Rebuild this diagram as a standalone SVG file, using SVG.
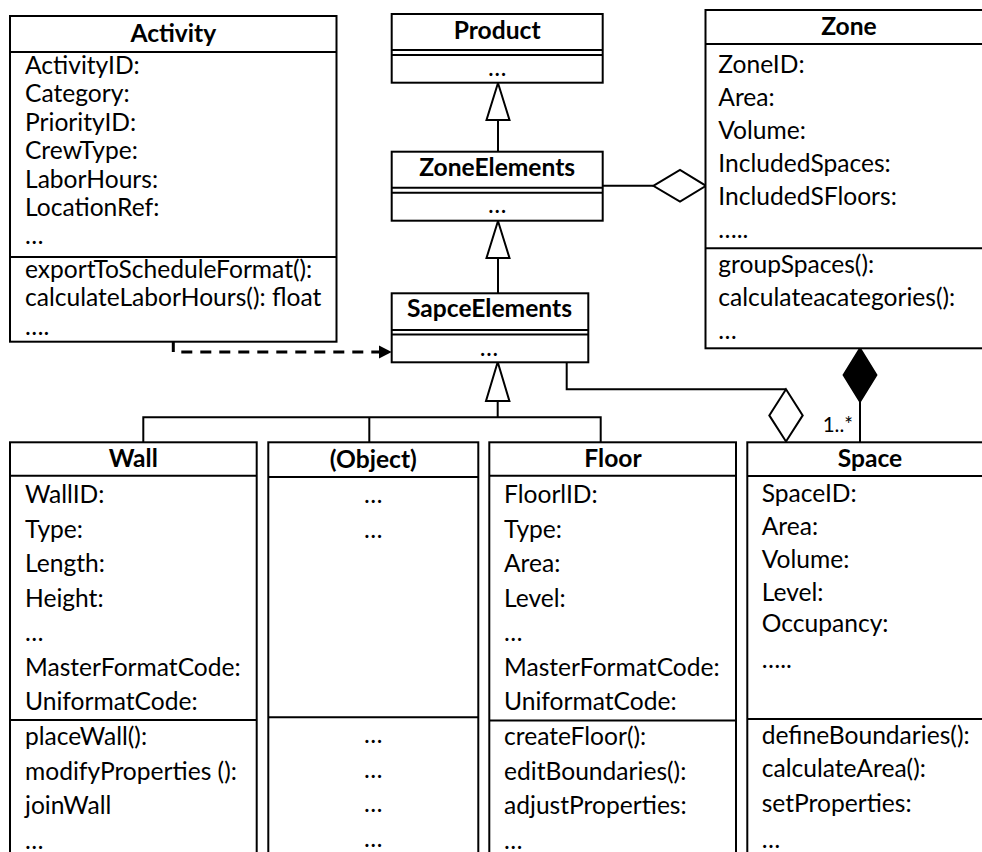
<svg xmlns="http://www.w3.org/2000/svg" width="982" height="852" viewBox="0 0 982 852">
<style>
  .box{fill:#fff;stroke:#000;stroke-width:2}
  .ln{fill:none;stroke:#000;stroke-width:2}
  .t{font-family:Lato,"Liberation Sans",sans-serif;font-size:24.6px;fill:#000}
  .b{font-family:Lato,"Liberation Sans",sans-serif;font-size:24.6px;font-weight:bold;fill:#000;text-anchor:middle}
  .c{text-anchor:middle}
  .gen{fill:#fff;stroke:#000;stroke-width:2}
</style>
<rect width="982" height="852" fill="#fff"/>

<g id="connectors">
  <!-- Product <- ZoneElements -->
  <line class="ln" x1="498" y1="120" x2="498" y2="152"/>
  <polygon class="gen" points="498,83 486.5,120 509.5,120"/>
  <!-- ZoneElements <- SapceElements -->
  <line class="ln" x1="498" y1="258" x2="498" y2="293"/>
  <polygon class="gen" points="498,221 486.5,258 509.5,258"/>
  <!-- SapceElements <- bottom row -->
  <line class="ln" x1="497.7" y1="401" x2="497.7" y2="417.3"/>
  <polyline class="ln" points="143.3,442 143.3,417.3 600.7,417.3 600.7,442"/>
  <line class="ln" x1="369.3" y1="417.3" x2="369.3" y2="442"/>
  <polygon class="gen" points="497.7,362 486,401 509.4,401"/>
  <!-- ZoneElements - Zone aggregation -->
  <line class="ln" x1="602.7" y1="185.8" x2="653.3" y2="185.8"/>
  <polygon class="gen" points="653.3,185.8 680,170 706,185.8 680,201.6"/>
  <!-- SapceElements - Space aggregation -->
  <polyline class="ln" points="566.7,362 566.7,389.3 786,389.3"/>
  <polygon class="gen" points="786,389.3 802.7,415.4 786,441.5 769.3,415.4"/>
  <!-- Zone - Space composition -->
  <line class="ln" x1="860" y1="402" x2="860" y2="442"/>
  <polygon points="860,348 876.7,375 860,402 843.3,375" fill="#000" stroke="#000" stroke-width="1.5"/>
  <text class="t" x="853" y="432" text-anchor="end" style="font-size:20.5px">1..*</text>
  <!-- Activity dependency -->
  <path d="M173.3,341 V352 H380" fill="none" stroke="#000" stroke-width="3" stroke-dasharray="11 8"/>
  <polygon points="391.7,352 379,345.5 379,358.5" fill="#000"/>
</g>

<g id="activity">
  <rect class="box" x="10" y="16" width="326.5" height="325.7"/>
  <line class="ln" x1="10" y1="52" x2="336.5" y2="52"/>
  <line class="ln" x1="10" y1="257" x2="336.5" y2="257"/>
  <text class="b" x="173.3" y="41.5">Activity</text>
  <text class="t" x="25" y="74">ActivityID:</text>
  <text class="t" x="25" y="102.4">Category:</text>
  <text class="t" x="25" y="130.8">PriorityID:</text>
  <text class="t" x="25" y="159.2">CrewType:</text>
  <text class="t" x="25" y="187.6">LaborHours:</text>
  <text class="t" x="25" y="216">LocationRef:</text>
  <text class="t" x="25" y="244.4">…</text>
  <text class="t" x="25" y="278">exportToScheduleFormat():</text>
  <text class="t" x="25" y="306.4">calculateLaborHours(): float</text>
  <text class="t" x="25" y="334.8">….</text>
</g>

<g id="product">
  <rect class="box" x="391.7" y="14" width="211" height="68.7"/>
  <line class="ln" x1="391.7" y1="50" x2="602.7" y2="50"/>
  <line class="ln" x1="391.7" y1="55" x2="602.7" y2="55"/>
  <text class="b" x="497.2" y="39.3">Product</text>
  <text class="t c" x="497.2" y="76">…</text>
</g>

<g id="zoneelements">
  <rect class="box" x="391.7" y="151.7" width="211" height="69"/>
  <line class="ln" x1="391.7" y1="187.7" x2="602.7" y2="187.7"/>
  <line class="ln" x1="391.7" y1="192.7" x2="602.7" y2="192.7"/>
  <text class="b" x="497.2" y="176">ZoneElements</text>
  <text class="t c" x="497.2" y="213">…</text>
</g>

<g id="sapceelements">
  <rect class="box" x="391.7" y="293.3" width="196.6" height="69"/>
  <line class="ln" x1="391.7" y1="330" x2="588.3" y2="330"/>
  <line class="ln" x1="391.7" y1="334.5" x2="588.3" y2="334.5"/>
  <text class="b" x="489.5" y="316.7">SapceElements</text>
  <text class="t c" x="489" y="356">…</text>
</g>

<g id="zone">
  <rect class="box" x="705.5" y="10" width="290" height="338.3"/>
  <line class="ln" x1="705.5" y1="44" x2="995.5" y2="44"/>
  <line class="ln" x1="705.5" y1="248.3" x2="995.5" y2="248.3"/>
  <text class="b" x="849" y="34.5">Zone</text>
  <text class="t" x="718.3" y="73">ZoneID:</text>
  <text class="t" x="718.3" y="106">Area:</text>
  <text class="t" x="718.3" y="139">Volume:</text>
  <text class="t" x="718.3" y="172">IncludedSpaces:</text>
  <text class="t" x="718.3" y="205">IncludedSFloors:</text>
  <text class="t" x="718.3" y="238">…..</text>
  <text class="t" x="718.3" y="273">groupSpaces():</text>
  <text class="t" x="718.3" y="306">calculateacategories():</text>
  <text class="t" x="718.3" y="339">…</text>
</g>

<g id="wall">
  <rect class="box" x="10" y="442.3" width="246.7" height="420"/>
  <line class="ln" x1="10" y1="475.7" x2="256.7" y2="475.7"/>
  <line class="ln" x1="10" y1="720" x2="256.7" y2="720"/>
  <text class="b" x="133.3" y="466.7">Wall</text>
  <text class="t" x="25" y="503.3">WallID:</text>
  <text class="t" x="25" y="537.8">Type:</text>
  <text class="t" x="25" y="572.3">Length:</text>
  <text class="t" x="25" y="606.8">Height:</text>
  <text class="t" x="25" y="641.3">…</text>
  <text class="t" x="25" y="675.8">MasterFormatCode:</text>
  <text class="t" x="25" y="710.3">UniformatCode:</text>
  <text class="t" x="25" y="745">placeWall():</text>
  <text class="t" x="25" y="779.5">modifyProperties ():</text>
  <text class="t" x="25" y="814">joinWall</text>
  <text class="t" x="25" y="848.5">…</text>
</g>

<g id="object">
  <rect class="box" x="268.3" y="442.3" width="210" height="420"/>
  <line class="ln" x1="268.3" y1="477" x2="478.3" y2="477"/>
  <line class="ln" x1="268.3" y1="717.3" x2="478.3" y2="717.3"/>
  <text class="b" x="373.3" y="468.3">(Object)</text>
  <text class="t c" x="373.3" y="502.7">…</text>
  <text class="t c" x="373.3" y="537.7">…</text>
  <text class="t c" x="373.3" y="742.7">…</text>
  <text class="t c" x="373.3" y="777.7">…</text>
  <text class="t c" x="373.3" y="812.3">…</text>
  <text class="t c" x="373.3" y="846.7">…</text>
</g>

<g id="floor">
  <rect class="box" x="489.3" y="442.3" width="246.7" height="420"/>
  <line class="ln" x1="489.3" y1="475.7" x2="736" y2="475.7"/>
  <line class="ln" x1="489.3" y1="720.5" x2="736" y2="720.5"/>
  <text class="b" x="613" y="466.7">Floor</text>
  <text class="t" x="504" y="503.3">FloorlID:</text>
  <text class="t" x="504" y="537.8">Type:</text>
  <text class="t" x="504" y="572.3">Area:</text>
  <text class="t" x="504" y="606.8">Level:</text>
  <text class="t" x="504" y="641.3">…</text>
  <text class="t" x="504" y="675.8">MasterFormatCode:</text>
  <text class="t" x="504" y="710.3">UniformatCode:</text>
  <text class="t" x="504" y="745">createFloor():</text>
  <text class="t" x="504" y="779.5">editBoundaries():</text>
  <text class="t" x="504" y="814">adjustProperties:</text>
  <text class="t" x="504" y="848.5">…</text>
</g>

<g id="space">
  <rect class="box" x="747.3" y="442.3" width="246" height="420"/>
  <line class="ln" x1="747.3" y1="476" x2="993.3" y2="476"/>
  <line class="ln" x1="747.3" y1="719" x2="993.3" y2="719"/>
  <text class="b" x="870" y="466.7">Space</text>
  <text class="t" x="761.7" y="502">SpaceID:</text>
  <text class="t" x="761.7" y="535">Area:</text>
  <text class="t" x="761.7" y="568">Volume:</text>
  <text class="t" x="761.7" y="600.5">Level:</text>
  <text class="t" x="761.7" y="632">Occupancy:</text>
  <text class="t" x="761.7" y="668">…..</text>
  <text class="t" x="761.7" y="743.5">defineBoundaries():</text>
  <text class="t" x="761.7" y="777">calculateArea():</text>
  <text class="t" x="761.7" y="811.5">setProperties:</text>
  <text class="t" x="761.7" y="848">…</text>
</g>
</svg>
